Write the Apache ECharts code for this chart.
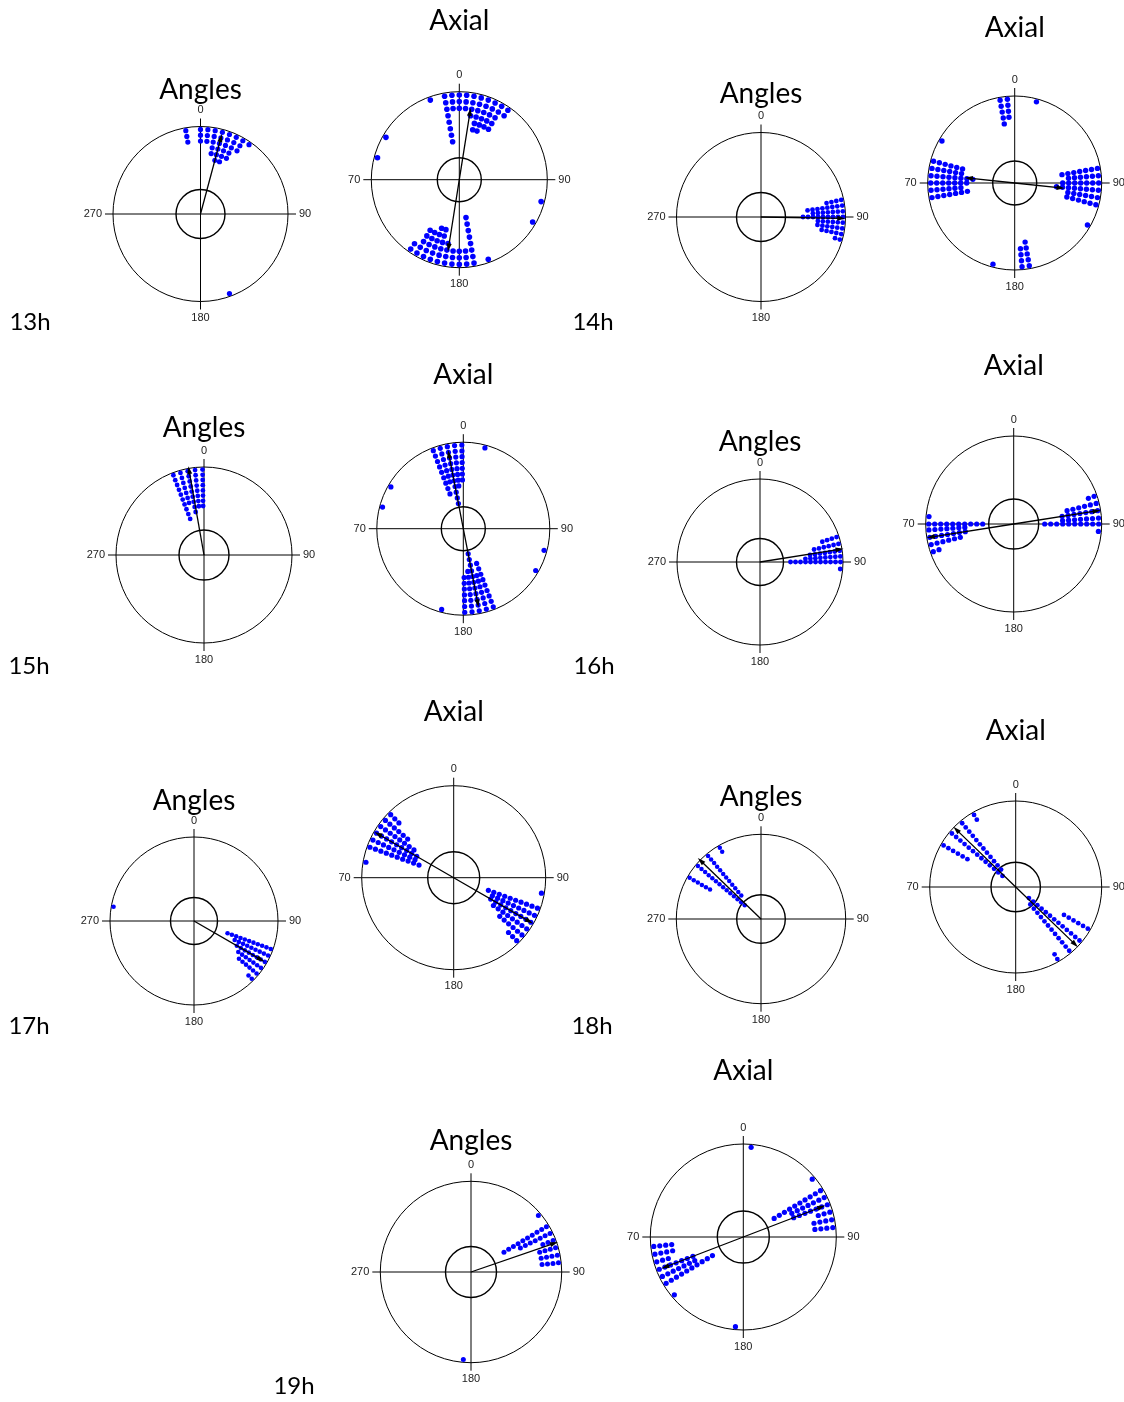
<!DOCTYPE html>
<html>
<head>
<meta charset="utf-8">
<script src="https://cdn.jsdelivr.net/npm/echarts@6/dist/echarts.min.js"></script>
<style>
  html, body { margin: 0; padding: 0; background: #fff; }
  #chart { width: 1124px; height: 1402px; }
</style>
</head>
<body>
<div id="chart"></div>
<script>
// ---------------- data ----------------
// Bin centres are compass degrees (0 = north, clockwise); counts are dots stacked in each bin.
// Mean vectors are [direction in degrees, mean resultant length 0..1].
const hourLabels = ['13h', '14h', '15h', '16h', '17h', '18h', '19h'];
const angleTicks = ['0', '90', '180', '270'];
const axialTicks = ['0', '90', '180', '70'];

const angles13Bins = [350, 0, 5, 10, 15, 20, 25, 30, 35, 160];
const angles13Counts = [3, 3, 3, 5, 6, 6, 5, 3, 1, 1];
const angles13Mean = [15, 0.90];

const axial13Bins = [285, 300, 340, 350, 355, 0, 5, 10, 15, 20, 25, 30, 35];
const axial13Counts = [1, 1, 1, 8, 3, 3, 3, 4, 6, 6, 5, 5, 2];
const axial13Mean = [9, 0.78];

const angles14Bins = [78, 82, 86, 90, 94, 98, 102, 106];
const angles14Counts = [4, 8, 7, 9, 6, 6, 5, 2];
const angles14Mean = [91, 0.95];

const axial14Bins = [80, 85, 90, 95, 100, 105, 350, 355, 15, 300];
const axial14Counts = [7, 6, 7, 8, 6, 6, 5, 4, 1, 1];
const axial14Mean = [96, 0.53];

const angles15Bins = [339, 344, 349, 354, 359];
const angles15Counts = [10, 7, 9, 8, 8];
const angles15Mean = [350, 0.98];

const axial15Bins = [339, 344, 349, 354, 359, 15, 285, 300];
const axial15Counts = [9, 7, 11, 8, 7, 1, 1, 1];
const axial15Mean = [349, 0.88];

const angles16Bins = [72, 77, 82, 86, 90, 95];
const angles16Counts = [4, 6, 7, 8, 11, 1];
const angles16Mean = [81, 0.97];

const axial16Bins = [71, 76, 81, 86, 90, 95];
const axial16Counts = [2, 6, 7, 7, 10, 1];
const axial16Mean = [81, 0.955];

const angles17Bins = [110, 115, 120, 125, 130, 135, 280];
const angles17Counts = [11, 9, 8, 7, 6, 2, 1];
const angles17Mean = [120, 0.92];

const axial17Bins = [100, 110, 115, 120, 125, 130, 135];
const axial17Counts = [1, 10, 9, 9, 8, 6, 3];
const axial17Mean = [120, 0.95];

const angles18Bins = [300, 310, 320, 330];
const angles18Counts = [6, 14, 12, 2];
const angles18Mean = [314, 0.99];

const axial18Bins = [300, 310, 320, 330];
const axial18Counts = [6, 13, 12, 2];
const axial18Mean = [314, 0.96];

const angles19Bins = [50, 59, 64, 69, 74, 79, 84, 185];
const angles19Counts = [1, 10, 7, 3, 4, 4, 4, 1];
const angles19Mean = [71, 0.97];

const axial19Bins = [5, 50, 59, 64, 69, 74, 79, 84];
const axial19Counts = [1, 1, 10, 7, 7, 3, 4, 4];
const axial19Mean = [69, 0.90];

// ---------------- layout ----------------
// cx, cy, r: outer circle; inner: Rayleigh circle radius; step/dot: dot spacing and size (px)
const layout = {
  a13: { cx: 200.5, cy: 214, r: 87.5, inner: 24.5, step: 5.8, dot: 5.2, titleY: 90 },
  x13: { cx: 459.3, cy: 179.7, r: 88, inner: 22, step: 6.6, dot: 5.6, titleY: 21 },
  a14: { cx: 761, cy: 217, r: 84.5, inner: 24.5, step: 5, dot: 4.8, titleY: 94 },
  x14: { cx: 1014.7, cy: 183, r: 87, inner: 22, step: 6, dot: 5.4, titleY: 28 },
  a15: { cx: 204, cy: 555, r: 88, inner: 25, step: 5.2, dot: 4.8, titleY: 428 },
  x15: { cx: 463.3, cy: 528.7, r: 86.5, inner: 22, step: 5.8, dot: 5.2, titleY: 375 },
  a16: { cx: 760, cy: 562, r: 83, inner: 23.5, step: 5, dot: 4.8, titleY: 442 },
  x16: { cx: 1013.7, cy: 524, r: 88, inner: 25, step: 6, dot: 5.2, titleY: 366 },
  a17: { cx: 194, cy: 921, r: 84, inner: 23.5, step: 4.6, dot: 4.6, titleY: 801 },
  x17: { cx: 453.7, cy: 877.7, r: 92, inner: 26, step: 5.8, dot: 5.2, titleY: 712 },
  a18: { cx: 761, cy: 919, r: 84.7, inner: 24.3, step: 4.7, dot: 4.5, titleY: 797 },
  x18: { cx: 1015.7, cy: 887, r: 86, inner: 24.7, step: 5.5, dot: 4.8, titleY: 731 },
  a19: { cx: 471, cy: 1272, r: 90.7, inner: 25.5, step: 5.5, dot: 5, titleY: 1141 },
  x19: { cx: 743.3, cy: 1237, r: 93, inner: 26, step: 6, dot: 5.2, titleY: 1071 }
};
const hourPos = [[30, 322], [593, 322], [29, 666], [594, 666], [29, 1026], [592, 1026], [294, 1386]];

const panels = [
  { kind: 'Angles', L: layout.a13, bins: angles13Bins, counts: angles13Counts, mean: angles13Mean },
  { kind: 'Axial',  L: layout.x13, bins: axial13Bins,  counts: axial13Counts,  mean: axial13Mean },
  { kind: 'Angles', L: layout.a14, bins: angles14Bins, counts: angles14Counts, mean: angles14Mean },
  { kind: 'Axial',  L: layout.x14, bins: axial14Bins,  counts: axial14Counts,  mean: axial14Mean },
  { kind: 'Angles', L: layout.a15, bins: angles15Bins, counts: angles15Counts, mean: angles15Mean },
  { kind: 'Axial',  L: layout.x15, bins: axial15Bins,  counts: axial15Counts,  mean: axial15Mean },
  { kind: 'Angles', L: layout.a16, bins: angles16Bins, counts: angles16Counts, mean: angles16Mean },
  { kind: 'Axial',  L: layout.x16, bins: axial16Bins,  counts: axial16Counts,  mean: axial16Mean },
  { kind: 'Angles', L: layout.a17, bins: angles17Bins, counts: angles17Counts, mean: angles17Mean },
  { kind: 'Axial',  L: layout.x17, bins: axial17Bins,  counts: axial17Counts,  mean: axial17Mean },
  { kind: 'Angles', L: layout.a18, bins: angles18Bins, counts: angles18Counts, mean: angles18Mean },
  { kind: 'Axial',  L: layout.x18, bins: axial18Bins,  counts: axial18Counts,  mean: axial18Mean },
  { kind: 'Angles', L: layout.a19, bins: angles19Bins, counts: angles19Counts, mean: angles19Mean },
  { kind: 'Axial',  L: layout.x19, bins: axial19Bins,  counts: axial19Counts,  mean: axial19Mean }
];

// Stack the dots of each bin inward from the rim; axial data are drawn at both ends of the axis.
function stackedDots(p) {
  const out = [];
  p.bins.forEach((a, j) => {
    for (let k = 0; k < p.counts[j]; k++) {
      const rr = 1 - (k + 0.5) * p.L.step / p.L.r;
      out.push([rr, a]);
      if (p.kind === 'Axial') out.push([rr, (a + 180) % 360]);
    }
  });
  return out;
}

function arrowHead(len, dir) {
  return { value: [len, dir], symbol: 'triangle', symbolSize: [5, 8], symbolRotate: -dir };
}

function meanVector(p) {
  const [dir, len] = p.mean;
  if (p.kind === 'Axial') {
    const back = (dir + 180) % 360;
    return [arrowHead(len, back), { value: [0, dir], symbol: 'none' }, arrowHead(len, dir)];
  }
  return [{ value: [0, dir], symbol: 'none' }, arrowHead(len, dir)];
}

const polar = [], angleAxis = [], radiusAxis = [], series = [], graphic = [];

panels.forEach((p, i) => {
  const L = p.L;
  const outer = 2 * i, inner = 2 * i + 1;
  const ticks = p.kind === 'Axial' ? axialTicks : angleTicks;

  polar.push({ center: [L.cx, L.cy], radius: L.r });
  angleAxis.push({
    polarIndex: outer, type: 'value', min: 0, max: 360, interval: 90,
    startAngle: 90, clockwise: true,
    axisLine: { show: true, lineStyle: { color: '#000', width: 1 } },
    axisTick: { show: true, length: 8, lineStyle: { color: '#000', width: 1 } },
    splitLine: { show: true, lineStyle: { color: '#000', width: 1 } },
    axisLabel: {
      show: true, margin: 11, fontSize: 11, color: '#222', fontFamily: 'Liberation Sans',
      formatter: v => (v >= 360 ? '' : ticks[Math.round(v / 90)])
    }
  });
  radiusAxis.push({ polarIndex: outer, type: 'value', min: 0, max: 1, show: false });

  polar.push({ center: [L.cx, L.cy], radius: L.inner });
  angleAxis.push({
    polarIndex: inner, type: 'value', min: 0, max: 360, startAngle: 90, clockwise: true,
    axisLine: { show: true, lineStyle: { color: '#000', width: 1.4 } },
    axisTick: { show: false }, axisLabel: { show: false }, splitLine: { show: false }
  });
  radiusAxis.push({ polarIndex: inner, type: 'value', min: 0, max: 1, show: false });

  series.push({
    type: 'scatter', coordinateSystem: 'polar', polarIndex: outer,
    data: stackedDots(p), symbolSize: L.dot,
    itemStyle: { color: '#0000ff', opacity: 1 }, silent: true, z: 3
  });
  series.push({
    type: 'line', coordinateSystem: 'polar', polarIndex: outer,
    data: meanVector(p), showSymbol: true, symbol: 'none',
    lineStyle: { color: '#000', width: 1.3 }, itemStyle: { color: '#000', opacity: 1 },
    silent: true, z: 4
  });

  graphic.push({
    type: 'text', x: L.cx, y: L.titleY, silent: true,
    style: {
      text: p.kind, fill: '#000', font: '28px Lato',
      textAlign: 'center', textVerticalAlign: 'middle', align: 'center', verticalAlign: 'middle'
    }
  });
});

hourLabels.forEach((h, i) => {
  graphic.push({
    type: 'text', x: hourPos[i][0], y: hourPos[i][1], silent: true,
    style: {
      text: h, fill: '#000', font: '24px Lato',
      textAlign: 'center', textVerticalAlign: 'middle', align: 'center', verticalAlign: 'middle'
    }
  });
});

const chart = echarts.init(document.getElementById('chart'), null, { renderer: 'canvas' });
chart.setOption({
  backgroundColor: '#fff',
  animation: false,
  polar, angleAxis, radiusAxis, series, graphic
});
</script>
</body>
</html>
